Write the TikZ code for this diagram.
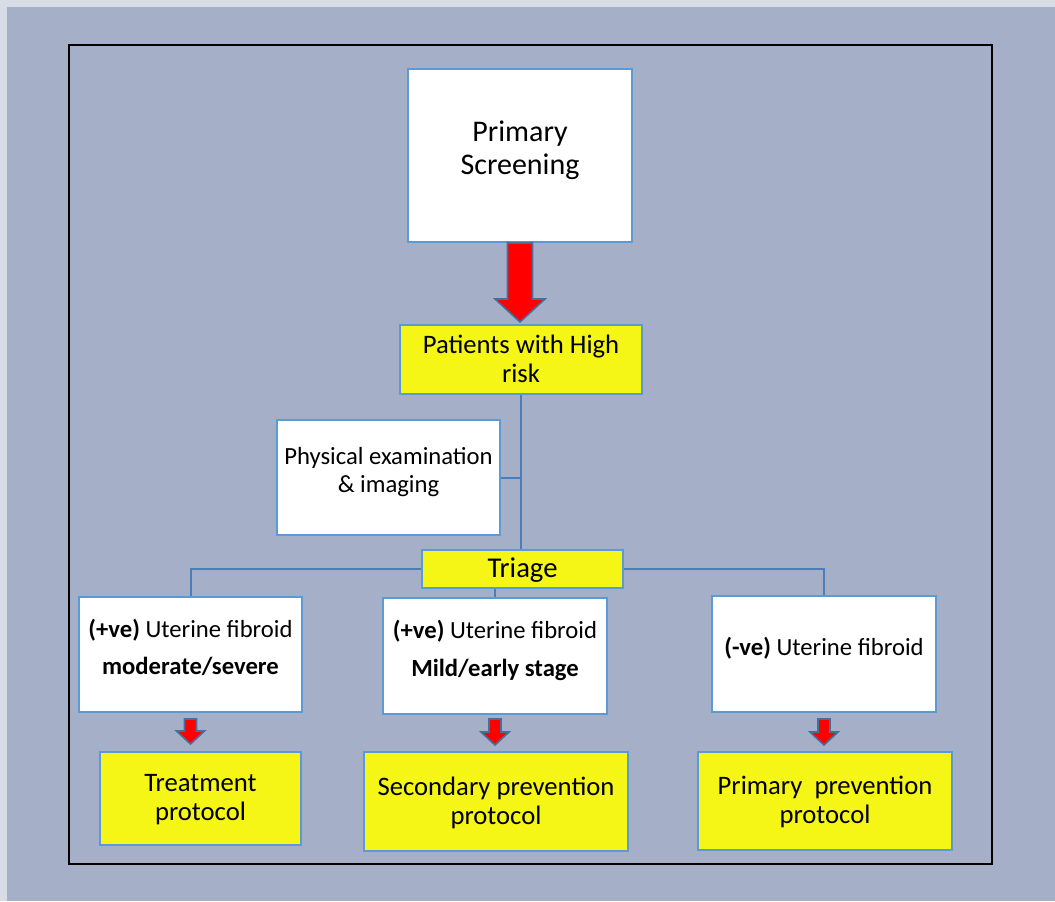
\documentclass[tikz,border=0pt]{standalone}
\usepackage{fontspec}
\setmainfont{Carlito}
\usetikzlibrary{calc,positioning}

\definecolor{pagebg}{HTML}{A5AFC8}
\definecolor{stripbg}{HTML}{D8DCE6}
\definecolor{boxline}{HTML}{5B9BD5}
\definecolor{connline}{HTML}{4A7EBB}
\definecolor{riskyellow}{HTML}{F5F516}
\definecolor{arrowline}{HTML}{41719C}

\newdimen\px
\px=0.75pt

% block arrow: start, tip, half shaft, half head, head length
\newcommand{\fatarrow}[5]{%
  \draw[fatarr] ($(#1)+(-#3,0)$) -- ($(#2)+(-#3,-#5)$) -- ($(#2)+(-#4,-#5)$) -- (#2)
    -- ($(#2)+(#4,-#5)$) -- ($(#2)+(#3,-#5)$) -- ($(#1)+(#3,0)$) -- cycle;}

\begin{document}
\begin{tikzpicture}[x=0.75pt, y=-0.75pt,
    box/.style={draw=boxline, line width=1.5pt, inner sep=0pt, align=center},
    whitebox/.style={box, fill=white, text depth=16\px},
    yellowbox/.style={box, fill=riskyellow, text depth=2\px},
    conn/.style={draw=connline, line width=1.5pt},
    fatarr/.style={fill=red, draw=arrowline, line width=1.2pt, line join=miter}
]
    \useasboundingbox (0,0) rectangle (1055,901);
    \fill[stripbg] (0,0) rectangle (1055,901);
    \fill[pagebg] (7,7) rectangle (1055,901);
    \draw[black, line width=1.5pt] (69,45) rectangle (992,864);

    % Top
    \node[whitebox, minimum width=224\px, minimum height=173\px, font=\fontsize{22.5}{25}\selectfont] (scr) at (520,155.5) {Primary\\Screening};
    \node[yellowbox, minimum width=242\px, minimum height=69\px, font=\fontsize{20}{21.75}\selectfont] (risk) at (521,359.5) {Patients with High\\risk};

    % Middle
    \node[whitebox, minimum width=223\px, minimum height=115\px, font=\fontsize{18.5}{21}\selectfont] (phys) at (388.5,477.5) {Physical examination\\\& imaging};
    \node[yellowbox, minimum width=201\px, minimum height=38\px, font=\fontsize{21.5}{24}\selectfont] (triage) at (522.5,569) {Triage};

    % Findings
    \node[whitebox, minimum width=223\px, minimum height=115\px, font=\fontsize{18.5}{21.75}\selectfont] (boxL) at (190.5,654.5) {\textbf{(+ve)} Uterine fibroid\\[8\px]\textbf{moderate/severe}};
    \node[whitebox, minimum width=224\px, minimum height=116\px, font=\fontsize{18.5}{21.75}\selectfont] (boxM) at (495,656) {\textbf{(+ve)} Uterine fibroid\\[9\px]\textbf{Mild/early stage}};
    \node[whitebox, minimum width=224\px, minimum height=116\px, font=\fontsize{18.5}{21.75}\selectfont] (boxR) at (824,654) {\textbf{(-ve)} Uterine fibroid};

    % Protocols
    \node[yellowbox, minimum width=201\px, minimum height=93\px, font=\fontsize{20}{21.75}\selectfont] (protL) at (200.5,798.5) {Treatment\\protocol};
    \node[yellowbox, minimum width=264\px, minimum height=99\px, font=\fontsize{20}{21.75}\selectfont] (protM) at (496,801.5) {Secondary prevention\\protocol};
    \node[yellowbox, minimum width=254\px, minimum height=98\px, font=\fontsize{20}{21.75}\selectfont] (protR) at (825,801) {Primary\ \ prevention\\protocol};

    % Connectors
    \draw[conn] (risk.south) -- (risk.south |- triage.north);
    \draw[conn] (phys.east) -- (phys.east -| risk.south);
    \draw[conn] (boxL.north) |- (triage.west);
    \draw[conn] (boxR.north) |- (triage.east);
    \draw[conn] (triage.south -| boxM.north) -- (boxM.north);

    % Arrows
    \coordinate (bigtip) at ($(scr.south |- risk.north)+(0,-2)$);
    \fatarrow{scr.south}{bigtip}{12.5}{25}{23}
    \fatarrow{$(boxL.south)+(0,6)$}{$(boxL.south |- protL.north)+(0,-7)$}{6}{14}{13}
    \fatarrow{$(boxM.south)+(0,4)$}{$(boxM.south |- protM.north)+(0,-6)$}{6}{14}{13}
    \fatarrow{$(boxR.south)+(0,6)$}{$(boxR.south |- protR.north)+(0,-6)$}{6}{14}{13}
\end{tikzpicture}
\end{document}
